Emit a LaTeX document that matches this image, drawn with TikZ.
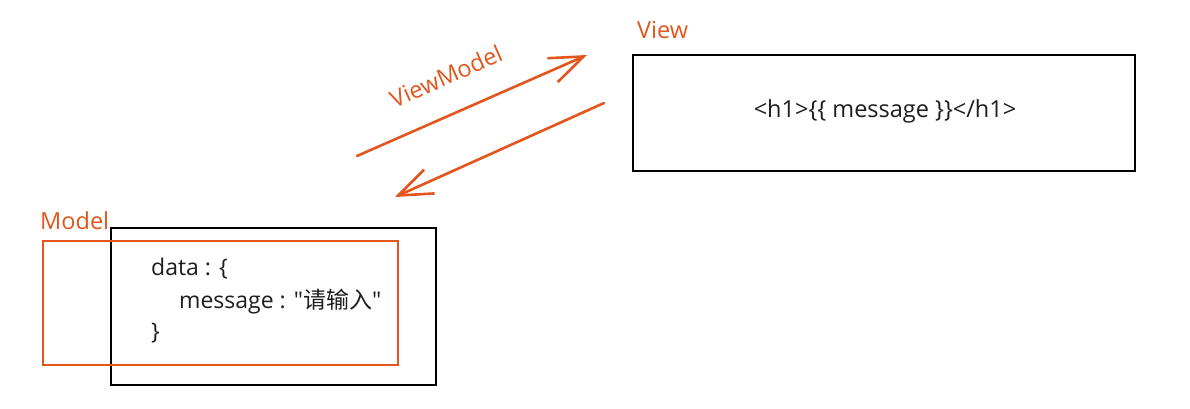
\documentclass[tikz,border=0pt]{standalone}
\usepackage{fontspec}
\setmainfont{Open Sans}
\newfontfamily\cjk{Noto Sans CJK SC}
\usetikzlibrary{arrows.meta}
\definecolor{org}{RGB}{226,85,28}
\definecolor{txt}{RGB}{30,30,30}
\begin{document}
\begin{tikzpicture}[x=1pt,y=-1pt,
  boxblack/.style={draw=black,line width=2.4pt},
  boxorg/.style={draw=org,line width=2.4pt},
  lbl/.style={text=org,font=\fontsize{23.5}{27}\selectfont,inner sep=0pt,anchor=base west},
  code/.style={text=txt,font=\fontsize{23}{27}\selectfont,inner sep=0pt,anchor=base west},
  orgarrow/.style={draw=org,line width=2.6pt,line cap=round,-{Straight Barb[length=34pt,width=26pt,line width=2.6pt]}}]
\useasboundingbox (0,0) rectangle (1190,409);
% View
\draw[boxblack] (633,55) rectangle (1135,171);
\node[text=txt,font=\fontsize{23.5}{27}\selectfont,inner sep=0pt] (viewtext) at (885,111) {<h1>\{\{ message \}\}</h1>};
\node[lbl] (viewlbl) at (637,39) {View};
% Model
\draw[boxblack] (111,228) rectangle (436,385);
\draw[boxorg] (43,241) rectangle (398,365);
\node[lbl] (modellbl) at (40,229) {Model};
\node[code] (l1) at (151,275) {data : \{};
\node[code] (l2) at (179,308) {message : \textquotedbl{\cjk 请输入}\textquotedbl};
\node[code] (l3) at (151,339) {\}};
% arrows
\coordinate (a1s) at (357,156);
\coordinate (a1e) at (587,55);
\coordinate (a2s) at (604,103);
\coordinate (a2e) at (395,197);
\draw[orgarrow] (a1s) -- (a1e);
\draw[orgarrow] (a2s) -- (a2e);
\node[text=org,font=\fontsize{23.5}{27}\selectfont,inner sep=0pt,rotate=23.7] (vm) at (446,76) {ViewModel};
\end{tikzpicture}
\end{document}
